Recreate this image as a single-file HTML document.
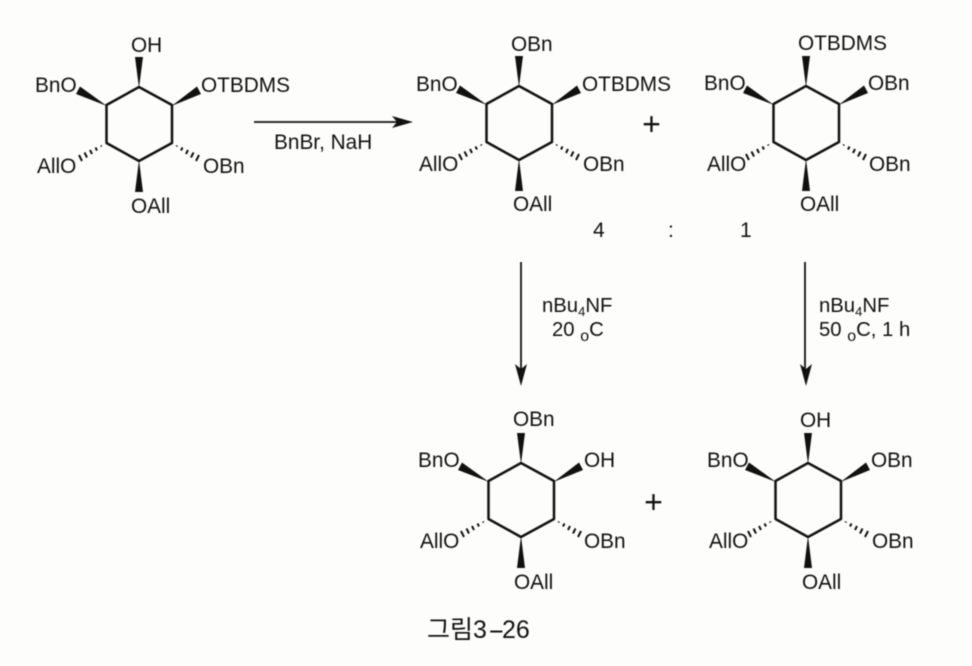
<!DOCTYPE html>
<html><head><meta charset="utf-8">
<style>
html,body{margin:0;padding:0;background:#fdfdfc;width:972px;height:666px;overflow:hidden}
svg{display:block;filter:blur(0.4px)}
text{font-family:"Liberation Sans","Noto Sans CJK KR",sans-serif;font-size:20.8px;fill:#111}
text.r{font-size:20.3px}
</style></head><body>
<svg width="972" height="666" viewBox="0 0 972 666" xmlns="http://www.w3.org/2000/svg">
<defs>
<g id="ring">
<polygon points="139,87 172,105 172,143 139,161 106.500,143 106.500,105" fill="none" stroke="#111" stroke-width="2.500" stroke-linejoin="round"/>
<polygon points="139,88 135,57 143,57" fill="#111"/>
<polygon points="139,160 135,192 143,192" fill="#111"/>
<polygon points="107,106 80,86.500 76,94" fill="#111"/>
<polygon points="171.500,106 197,86.500 201,94" fill="#111"/>
<g stroke="#111" stroke-width="2" fill="none">
<path d="M101,145.500l0.500,1M95.500,147.500l1.500,3M90,150l2,4M84.500,152.500l2.500,5M79,155l3,6"/>
<path d="M177,145.500l-0.500,1M182.500,147.500l-1.500,3M188,150l-2,4M193.500,152.500l-2.500,5M199,155l-3,6"/>
</g>
</g>
</defs>

<use href="#ring"/>
<use href="#ring" transform="translate(380,-1)"/>
<use href="#ring" transform="translate(667,-1)"/>
<use href="#ring" transform="translate(382,376)"/>
<use href="#ring" transform="translate(669,376)"/>

<text x="131" y="52">OH</text>
<text x="35" y="92">BnO</text>
<text x="201" y="92">OTBDMS</text>
<text x="37" y="173">AllO</text>
<text x="203" y="173">OBn</text>
<text x="131" y="213">OAll</text>

<text x="511" y="51">OBn</text>
<text x="416" y="91">BnO</text>
<text x="582" y="91">OTBDMS</text>
<text x="419" y="171">AllO</text>
<text x="583" y="171">OBn</text>
<text x="513" y="211">OAll</text>

<text x="798" y="50">OTBDMS</text>
<text x="704" y="90">BnO</text>
<text x="868" y="90">OBn</text>
<text x="707" y="171">AllO</text>
<text x="869" y="171">OBn</text>
<text x="800" y="211">OAll</text>

<text x="513" y="426">OBn</text>
<text x="418" y="467">BnO</text>
<text x="584" y="467">OH</text>
<text x="420" y="548">AllO</text>
<text x="584" y="548">OBn</text>
<text x="514" y="589">OAll</text>

<text x="800" y="427">OH</text>
<text x="707" y="467">BnO</text>
<text x="871" y="467">OBn</text>
<text x="709" y="548">AllO</text>
<text x="872" y="548">OBn</text>
<text x="802" y="589">OAll</text>

<path d="M254,122H400" stroke="#111" stroke-width="1.800"/>
<polygon points="413,122 392,116 397,122 392,128" fill="#111"/>
<text x="274" y="149">BnBr, NaH</text>

<path d="M521,262V372" stroke="#111" stroke-width="1.800"/>
<polygon points="521,386 515,364 521,369 527,364" fill="#111"/>
<path d="M805,262V372" stroke="#111" stroke-width="1.800"/>
<polygon points="806,386 800,364 806,369 812,364" fill="#111"/>

<text class="r" x="542" y="312">nBu<tspan font-size="13" dy="4">4</tspan><tspan dy="-4">NF</tspan></text>
<text class="r" x="552" y="336">20 <tspan font-size="16" dy="5">o</tspan><tspan dy="-5">C</tspan></text>
<text class="r" x="819" y="312">nBu<tspan font-size="13" dy="4">4</tspan><tspan dy="-4">NF</tspan></text>
<text class="r" x="819" y="336">50 <tspan font-size="16" dy="5">o</tspan><tspan dy="-5">C, 1 h</tspan></text>

<text x="593" y="237" style="font-size:21px">4</text>
<text x="668" y="237" style="font-size:21px">:</text>
<text x="740" y="237" style="font-size:21px">1</text>

<text x="651.500" y="135" text-anchor="middle" style="font-size:32px">+</text>
<text x="653.500" y="513" text-anchor="middle" style="font-size:32px">+</text>

<text x="427" y="638" style="font-size:25px">그림3</text>
<text transform="translate(488,638) scale(2,1)" style="font-size:25px">-</text>
<text x="502" y="638" style="font-size:25px">26</text>
</svg>
</body></html>
